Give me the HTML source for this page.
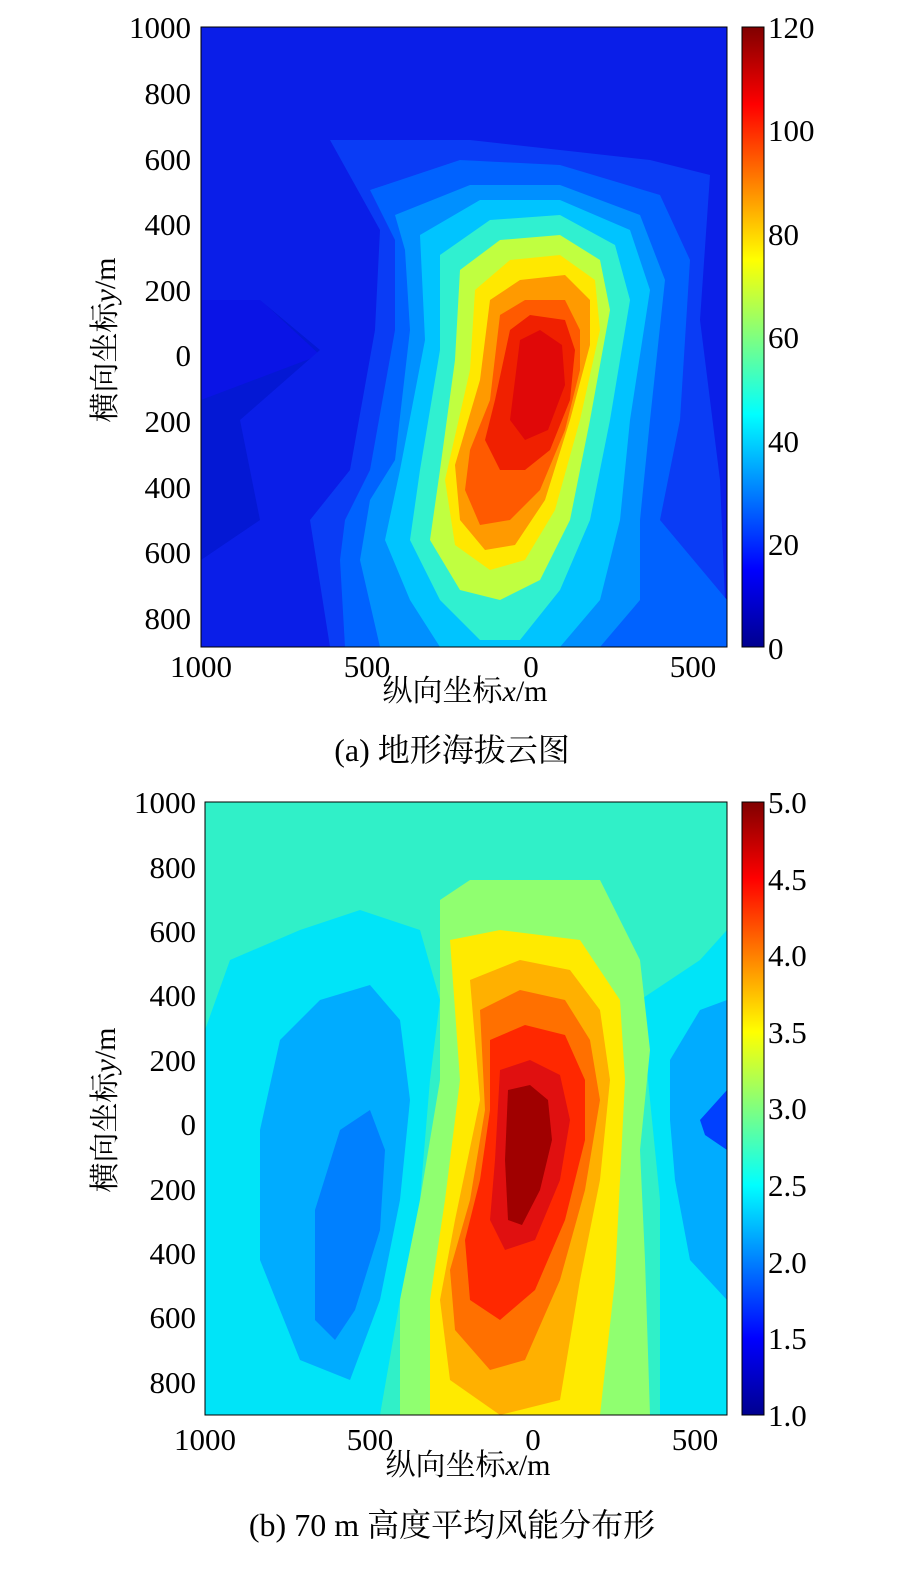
<!DOCTYPE html>
<html><head><meta charset="utf-8"><style>
body{margin:0;background:#fff;}
svg text{font-family:"Liberation Serif","Noto Serif CJK SC",serif;}
</style></head><body>
<svg width="914" height="1566" viewBox="0 0 914 1566" xmlns="http://www.w3.org/2000/svg">
<defs>
<linearGradient id="jet" x1="0" y1="1" x2="0" y2="0">
<stop offset="0" stop-color="#00008f"/><stop offset="0.125" stop-color="#0000ff"/>
<stop offset="0.375" stop-color="#00ffff"/><stop offset="0.625" stop-color="#ffff00"/>
<stop offset="0.875" stop-color="#ff0000"/><stop offset="1" stop-color="#800000"/>
</linearGradient>
<clipPath id="ca"><rect x="201" y="27" width="526" height="620"/></clipPath>
<clipPath id="cb"><rect x="205" y="802" width="522" height="613"/></clipPath>
</defs>
<!-- chart a -->
<g clip-path="url(#ca)">
<rect x="201" y="27" width="526" height="620" fill="#0a14e6"/>
<polygon points="201,27 727,27 727,647 201,647 201,400 320,355 250,290 240,220 201,200" fill="#0418d4"/>
<polygon points="201,27 727,27 727,647 201,647 201,560 260,520 240,420 320,350 260,300 201,300" fill="#0a1ee8"/>
<polygon points="330,140 470,140 560,150 650,160 710,175 700,320 720,480 727,647 330,647 310,520 350,470 375,330 380,230" fill="#0a3cf5"/>
<polygon points="370,190 460,160 560,165 660,195 690,260 680,420 660,520 727,600 727,647 345,647 340,560 345,520 370,470 395,330 395,240" fill="#0062ff"/>
<polygon points="395,215 470,185 560,185 640,215 665,280 650,420 640,520 640,600 600,647 380,647 360,560 370,500 395,460 410,330 405,250" fill="#0090ff"/>
<polygon points="420,235 480,200 560,200 630,230 650,290 630,420 620,520 600,600 560,647 440,647 410,600 385,540 400,470 425,340" fill="#00c4ff"/>
<polygon points="440,255 490,220 560,215 615,245 630,300 610,420 590,520 560,590 520,640 480,640 440,600 410,540 420,470 440,350" fill="#30f0d0"/>
<polygon points="460,270 500,240 560,235 600,260 610,310 590,420 570,520 540,580 500,600 460,590 430,540 440,470 455,360" fill="#c0ff40"/>
<polygon points="475,290 510,260 560,255 595,280 600,330 580,420 555,510 525,560 490,570 455,545 445,480 470,370" fill="#ffe800"/>
<polygon points="490,300 520,280 565,275 590,300 590,345 570,420 545,500 515,545 485,550 460,520 455,465 480,380" fill="#ff9a00"/>
<polygon points="500,315 525,300 565,300 580,330 580,370 565,430 540,490 510,520 480,525 465,490 470,450 490,400" fill="#ff5a00"/>
<polygon points="510,330 530,315 565,320 575,350 570,400 550,450 525,470 500,470 485,440 495,400" fill="#f02000"/>
<polygon points="520,340 540,330 562,345 565,385 548,430 525,440 510,420 515,380" fill="#e00808"/>
</g>
<rect x="201" y="27" width="526" height="620" fill="none" stroke="#000" stroke-width="1"/>
<rect x="742" y="27" width="22" height="620" fill="url(#jet)" stroke="#000" stroke-width="1"/>
<g font-size="31" text-anchor="end">
<text x="191" y="38">1000</text><text x="191" y="104">800</text><text x="191" y="170">600</text><text x="191" y="235">400</text><text x="191" y="301">200</text><text x="191" y="366">0</text><text x="191" y="432">200</text><text x="191" y="498">400</text><text x="191" y="563">600</text><text x="191" y="629">800</text>
</g>
<g font-size="31" text-anchor="start">
<text x="768" y="38">120</text><text x="768" y="141">100</text><text x="768" y="245">80</text><text x="768" y="348">60</text><text x="768" y="452">40</text><text x="768" y="555">20</text><text x="768" y="659">0</text>
</g>
<g font-size="31" text-anchor="middle">
<text x="201" y="677">1000</text><text x="367" y="677">500</text><text x="531" y="677">0</text><text x="693" y="677">500</text>
<text x="465" y="701" font-size="30">纵向坐标<tspan font-style="italic">x</tspan>/m</text>
<text x="452" y="761" font-size="32">(a)  地形海拔云图</text>
<text transform="translate(115,340) rotate(-90)" font-size="30">横向坐标<tspan font-style="italic">y</tspan>/m</text>
</g>
<!-- chart b -->
<g clip-path="url(#cb)">
<rect x="205" y="802" width="522" height="613" fill="#30f0c8"/>
<polygon points="205,1030 230,960 300,930 360,910 420,930 440,1000 430,1080 420,1200 400,1300 380,1415 205,1415" fill="#00e4f8"/>
<polygon points="640,1000 700,960 727,930 727,1415 660,1415 660,1200" fill="#00e4f8"/>
<polygon points="260,1130 280,1040 320,1000 370,985 400,1020 410,1100 400,1200 380,1300 350,1380 300,1360 260,1260" fill="#00acff"/>
<polygon points="670,1060 700,1010 727,1000 727,1300 690,1260 675,1180 670,1120" fill="#00acff"/>
<polygon points="700,1120 727,1090 727,1150 705,1135" fill="#0040ff"/>
<polygon points="315,1210 340,1130 370,1110 385,1150 380,1230 355,1310 335,1340 315,1320" fill="#0080ff"/>
<polygon points="440,900 470,880 600,880 640,960 650,1050 640,1150 645,1260 650,1415 400,1415 400,1300 420,1200 440,1080" fill="#90ff70"/>
<polygon points="450,940 500,930 580,940 620,1000 625,1080 620,1180 615,1280 600,1415 430,1415 430,1300 445,1200 460,1080" fill="#ffea00"/>
<polygon points="470,980 520,960 570,970 600,1010 610,1080 600,1180 580,1280 560,1400 500,1415 450,1380 440,1300 455,1220 480,1100" fill="#ffb000"/>
<polygon points="480,1010 520,990 565,1000 590,1040 600,1100 585,1190 560,1280 525,1360 490,1370 455,1330 450,1270 470,1200 485,1110" fill="#ff7000"/>
<polygon points="490,1040 525,1025 565,1035 585,1080 585,1140 565,1220 535,1290 500,1320 470,1300 465,1240 480,1180 490,1110" fill="#ff2800"/>
<polygon points="500,1070 530,1060 560,1075 570,1120 560,1180 535,1240 505,1250 490,1220 495,1160" fill="#e01010"/>
<polygon points="508,1090 530,1085 548,1100 552,1140 540,1190 522,1225 508,1220 505,1160" fill="#a00000"/>
</g>
<rect x="205" y="802" width="522" height="613" fill="none" stroke="#000" stroke-width="1"/>
<rect x="742" y="802" width="22" height="613" fill="url(#jet)" stroke="#000" stroke-width="1"/>
<g font-size="31" text-anchor="end">
<text x="196" y="813">1000</text><text x="196" y="878">800</text><text x="196" y="942">600</text><text x="196" y="1006">400</text><text x="196" y="1071">200</text><text x="196" y="1135">0</text><text x="196" y="1200">200</text><text x="196" y="1264">400</text><text x="196" y="1328">600</text><text x="196" y="1393">800</text>
</g>
<g font-size="31" text-anchor="start">
<text x="768" y="813">5.0</text><text x="768" y="890">4.5</text><text x="768" y="966">4.0</text><text x="768" y="1043">3.5</text><text x="768" y="1119">3.0</text><text x="768" y="1196">2.5</text><text x="768" y="1273">2.0</text><text x="768" y="1349">1.5</text><text x="768" y="1426">1.0</text>
</g>
<g font-size="31" text-anchor="middle">
<text x="205" y="1450">1000</text><text x="370" y="1450">500</text><text x="533" y="1450">0</text><text x="695" y="1450">500</text>
<text x="468" y="1475" font-size="30">纵向坐标<tspan font-style="italic">x</tspan>/m</text>
<text x="452" y="1536" font-size="32">(b) 70 m 高度平均风能分布形</text>
<text transform="translate(115,1110) rotate(-90)" font-size="30">横向坐标<tspan font-style="italic">y</tspan>/m</text>
</g>
</svg>
</body></html>
